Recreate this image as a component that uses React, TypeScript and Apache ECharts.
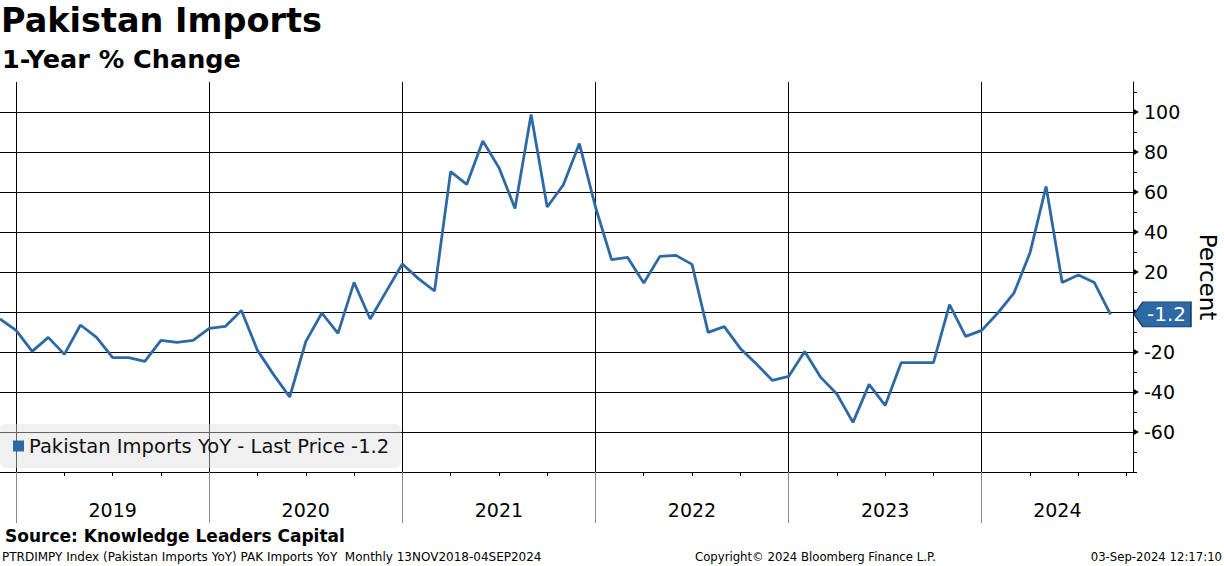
import React, { useEffect, useRef } from "react";
import * as echarts from "echarts";

// ---- data ----
const months: string[] = [
  "2018-11", "2018-12",
  "2019-01", "2019-02", "2019-03", "2019-04", "2019-05", "2019-06", "2019-07", "2019-08", "2019-09", "2019-10", "2019-11", "2019-12",
  "2020-01", "2020-02", "2020-03", "2020-04", "2020-05", "2020-06", "2020-07", "2020-08", "2020-09", "2020-10", "2020-11", "2020-12",
  "2021-01", "2021-02", "2021-03", "2021-04", "2021-05", "2021-06", "2021-07", "2021-08", "2021-09", "2021-10", "2021-11", "2021-12",
  "2022-01", "2022-02", "2022-03", "2022-04", "2022-05", "2022-06", "2022-07", "2022-08", "2022-09", "2022-10", "2022-11", "2022-12",
  "2023-01", "2023-02", "2023-03", "2023-04", "2023-05", "2023-06", "2023-07", "2023-08", "2023-09", "2023-10", "2023-11", "2023-12",
  "2024-01", "2024-02", "2024-03", "2024-04", "2024-05", "2024-06", "2024-07", "2024-08",
];

const importsYoY: number[] = [
  -3.5, -9.2,
  -19.7, -12.7, -21.2, -6.5, -12.7, -22.8, -22.8, -24.7, -14.2, -15.2, -14.2, -8.2,
  -7.2, 0.8, -19.2, -31.3, -42.5, -14.8, -0.5, -10.7, 14.8, -3.5, 10.3, 24.0,
  16.7, 10.5, 70.2, 63.8, 85.5, 72.2, 51.8, 98.8, 52.5, 63.5, 84.2, 52.5,
  26.2, 27.3, 14.5, 27.8, 28.3, 23.8, -10.2, -7.3, -18.2, -26.0, -34.2, -32.2,
  -19.7, -32.7, -41.0, -55.2, -36.2, -46.7, -25.3, -25.3, -25.3, 3.7, -12.2, -9.2,
  -0.5, 9.4, 29.6, 62.8, 14.7, 18.5, 14.7, -1.2,
];

const yearLabels: string[] = ["2019", "2020", "2021", "2022", "2023", "2024"];
const yearStarts: number[] = [0, 12, 24, 36, 48, 60]; // months after Jan 2019
const quarterTicks: number[] = [0, 3, 6, 9, 12, 15, 18, 21, 24, 27, 30, 33, 36, 39, 42, 45, 48, 51, 54, 57, 60, 63, 66, 69];
const yGridValues: number[] = [-60, -40, -20, 0, 20, 40, 60, 80, 100];
const yMinorTicks: number[] = [-80, -70, -50, -30, -10, 10, 30, 50, 70, 90, 110];

const SERIES_NAME = "Pakistan Imports YoY";
const LINE_COLOR = "#2d6aa5";
const FONT = "'DejaVu Sans', sans-serif";
const X_MIN = -1;
const X_MAX = 69.4;
const Y_MIN = -80;
const Y_MAX = 115;

// month-end position, in months after 1 Jan 2019
function monthPos(m: string): number {
  const [y, mo] = m.split("-").map(Number);
  return (y - 2019) * 12 + mo;
}

export default function App() {
  const ref = useRef<HTMLDivElement>(null);

  useEffect(() => {
    document.body.style.margin = "0";
    if (!ref.current) return;
    const chart = echarts.init(ref.current, undefined, { renderer: "svg" });

    const lastValue = importsYoY[importsYoY.length - 1];
    const lastText = lastValue.toFixed(1);
    const yearCenters = yearStarts.map(
      (s) => (Math.max(s, X_MIN) + Math.min(s + 12, X_MAX)) / 2
    );
    // the last-price badge hides the tick label it sits on
    const yLabelValues = yGridValues.filter((v) => Math.abs(v - lastValue) > 8);

    const vLines = yearStarts.map((s) => ({ xAxis: s }));
    const hLines = yGridValues.map((v) => ({ yAxis: v }));

    // small right-pointing arrows on the axis at each labelled value
    const arrowPoints = yGridValues.map((v) => ({
      coord: [X_MAX, v],
      symbol: "triangle",
      symbolSize: [7, 6],
      symbolRotate: -90,
      symbolOffset: [3, 0],
      itemStyle: { color: "#000", borderWidth: 0 },
      label: { show: false },
    }));

    const option: any = {
      animation: false,
      backgroundColor: "#ffffff",
      title: [
        {
          text: "Pakistan Imports",
          left: 1,
          top: 3,
          padding: 0,
          textStyle: { fontFamily: FONT, fontSize: 33.5, fontWeight: "bold", color: "#000" },
        },
        {
          text: "1-Year % Change",
          left: 2,
          top: 46,
          padding: 0,
          textStyle: { fontFamily: FONT, fontSize: 25.5, fontWeight: "bold", color: "#000" },
        },
        {
          text: "Source: Knowledge Leaders Capital",
          left: 5,
          top: 527,
          padding: 0,
          textStyle: { fontFamily: FONT, fontSize: 17, fontWeight: "bold", color: "#000" },
        },
        {
          text: "PTRDIMPY Index (Pakistan Imports YoY) PAK Imports YoY  Monthly 13NOV2018-04SEP2024",
          left: 2,
          top: 551,
          padding: 0,
          textStyle: { fontFamily: FONT, fontSize: 12, fontWeight: "normal", color: "#000" },
        },
        {
          text: "Copyright\u00A9 2024 Bloomberg Finance L.P.",
          left: 695,
          top: 551,
          padding: 0,
          textStyle: { fontFamily: FONT, fontSize: 11.7, fontWeight: "normal", color: "#000" },
        },
        {
          text: "03-Sep-2024 12:17:10",
          right: 2,
          top: 551,
          padding: 0,
          textStyle: { fontFamily: FONT, fontSize: 11.7, fontWeight: "normal", color: "#000" },
        },
      ],
      legend: {
        show: true,
        left: 0,
        top: 424,
        icon: "rect",
        itemWidth: 11,
        itemHeight: 11,
        padding: [12, 12, 12, 13],
        backgroundColor: "rgba(222,222,222,0.45)",
        borderRadius: 6,
        selectedMode: false,
        z: 10,
        textStyle: { fontFamily: FONT, fontSize: 19.5, color: "#111" },
        formatter: (name: string) => `${name} - Last Price ${lastText}`,
        data: [SERIES_NAME],
      },
      grid: {
        left: 0,
        right: 91,
        top: 82,
        height: 390,
        containLabel: false,
        outerBoundsMode: "none",
      },
      xAxis: [
        {
          type: "value",
          min: X_MIN,
          max: X_MAX,
          position: "bottom",
          axisLine: { show: true, onZero: false, lineStyle: { color: "#000", width: 1 } },
          axisTick: {
            show: true,
            customValues: quarterTicks,
            length: 4,
            inside: false,
            lineStyle: { color: "#000", width: 1 },
          },
          axisLabel: { show: false },
          splitLine: { show: false },
        },
        {
          type: "value",
          min: X_MIN,
          max: X_MAX,
          position: "bottom",
          axisLine: { show: false, onZero: false },
          axisTick: {
            show: true,
            customValues: yearStarts,
            length: 51,
            inside: false,
            lineStyle: { color: "#8a8a8a", width: 1 },
          },
          axisLabel: {
            show: true,
            customValues: yearCenters,
            margin: 28,
            fontFamily: FONT,
            fontSize: 19,
            color: "#000",
            formatter: (v: number) => {
              const i = yearCenters.findIndex((c) => Math.abs(c - v) < 0.01);
              return i >= 0 ? yearLabels[i] : "";
            },
          },
          splitLine: { show: false },
        },
      ],
      yAxis: {
        type: "value",
        position: "right",
        min: Y_MIN,
        max: Y_MAX,
        axisLine: { show: true, onZero: false, lineStyle: { color: "#000", width: 1 } },
        axisTick: {
          show: true,
          customValues: yMinorTicks,
          length: 4,
          inside: false,
          lineStyle: { color: "#000", width: 1 },
        },
        axisLabel: {
          show: true,
          customValues: yLabelValues,
          margin: 11,
          fontFamily: FONT,
          fontSize: 19,
          color: "#000",
        },
        splitLine: { show: false },
        name: "Percent",
        nameLocation: "middle",
        nameRotate: -90,
        nameGap: 63,
        nameTextStyle: { fontFamily: FONT, fontSize: 23, color: "#000" },
      },
      series: [
        {
          type: "line",
          name: SERIES_NAME,
          xAxisIndex: 0,
          yAxisIndex: 0,
          data: months.map((m, i) => [monthPos(m), importsYoY[i]]),
          showSymbol: false,
          symbol: "none",
          clip: false,
          lineStyle: { color: LINE_COLOR, width: 2.8 },
          itemStyle: { color: LINE_COLOR },
          z: 3,
          markLine: {
            silent: true,
            z: 1,
            symbol: "none",
            label: { show: false },
            emphasis: { disabled: true },
            lineStyle: { color: "#000", width: 1, type: "solid" },
            data: [...vLines, ...hLines],
          },
          markPoint: {
            silent: true,
            z: 6,
            data: [
              ...arrowPoints,
              {
                coord: [X_MAX, lastValue],
                value: lastValue,
                symbol: "path://M0,13 L9,0 L58,0 L58,26 L9,26 Z",
                symbolSize: [57, 25],
                symbolKeepAspect: false,
                symbolOffset: [29.5, 0],
                itemStyle: { color: LINE_COLOR, borderColor: "#163a63", borderWidth: 1 },
                label: {
                  show: true,
                  position: "inside",
                  offset: [4, 0],
                  color: "#fff",
                  fontFamily: FONT,
                  fontSize: 20,
                  formatter: () => lastText,
                },
              },
            ],
          },
        },
      ],
    };

    chart.setOption(option);
    return () => chart.dispose();
  }, []);

  return <div ref={ref} style={{ width: 1224, height: 566 }} />;
}
